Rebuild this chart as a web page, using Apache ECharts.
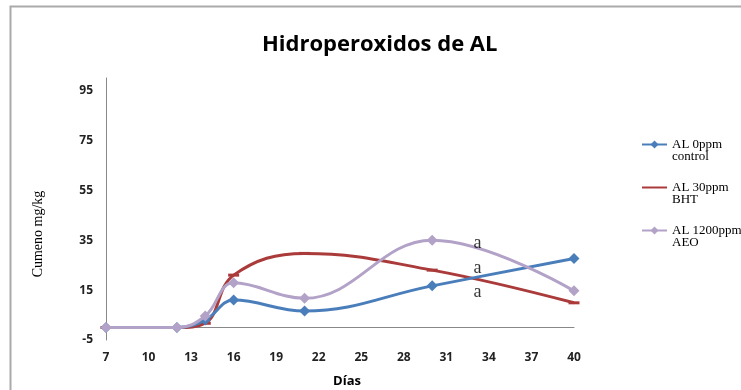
<!DOCTYPE html>
<html>
<head>
<meta charset="utf-8">
<script src="https://cdn.jsdelivr.net/npm/echarts@6/dist/echarts.min.js"></script>
<style>html,body{margin:0;padding:0;background:#fff}#c{width:741px;height:390px}</style>
</head>
<body>
<div id="c"></div>
<script>
var days = [7, 12, 14, 16, 21, 30, 40];
var control = [0, 0, 3, 11, 6.6, 16.7, 27.7];
var bht = [0, 0, 1.7, 21, 29.7, 23, 9.9];
var aeo = [0, 0, 4.6, 17.9, 11.7, 35, 14.7];
var seriesNames = ['AL 0ppm\ncontrol', 'AL 30ppm\nBHT', 'AL 1200ppm\nAEO'];
var annotX = [33.2, 33.2, 33.2];
var annotY = [33.8, 23.8, 14.2];
var annotText = ['a', 'a', 'a'];

function pairs(xs, ys) { return xs.map(function (x, i) { return [x, ys[i]]; }); }

var chart = echarts.init(document.getElementById('c'));
var labelFont = { fontFamily: 'Open Sans', fontWeight: 'bold', fontSize: 12, color: '#222' };
chart.setOption({
  animation: false,
  title: {
    text: 'Hidroperoxidos de AL',
    left: 257, top: 29,
    textStyle: { fontFamily: 'Open Sans', fontWeight: 'bold', fontSize: 22, color: '#000' }
  },
  grid: { left: 106, right: 167, top: 78, bottom: 50 },
  legend: {
    orient: 'vertical', left: 636, top: 121,
    itemWidth: 25, itemHeight: 10, itemGap: 6,
    data: [
      { name: seriesNames[0] },
      { name: seriesNames[1], itemStyle: { opacity: 0 } },
      { name: seriesNames[2] }
    ],
    formatter: function (name) { return ' \n' + name; },
    textStyle: { fontFamily: 'Liberation Serif', fontSize: 13, color: '#000', lineHeight: 12 }
  },
  xAxis: {
    type: 'value', min: 7, max: 40, interval: 3,
    axisLine: { lineStyle: { color: '#888', width: 1 } },
    axisTick: { show: false },
    splitLine: { show: false },
    axisLabel: Object.assign({ margin: 12 }, labelFont)
  },
  yAxis: {
    type: 'value', min: -5, max: 100, interval: 20,
    axisLine: { show: true, lineStyle: { color: '#888', width: 1 } },
    axisTick: { show: false },
    splitLine: { show: false },
    axisLabel: Object.assign({ margin: 13, formatter: function (v) { return v === 100 ? '' : v; } }, labelFont)
  },
  graphic: [
    { type: 'rect', shape: { x: 10.5, y: 6.5, width: 900, height: 600 }, style: { fill: 'none', stroke: '#aaa', lineWidth: 2 }, silent: true },
    { type: 'text', x: 38, y: 234, rotation: Math.PI / 2, style: { text: 'Cumeno mg/kg', fontFamily: 'Liberation Serif', fontSize: 14, fill: '#000', align: 'center', verticalAlign: 'middle' } },
    { type: 'text', x: 347, y: 381, style: { text: 'Días', fontFamily: 'Open Sans', fontWeight: 'bold', fontSize: 13, fill: '#000', align: 'center', verticalAlign: 'middle' } }
  ],
  series: [
    { name: seriesNames[0], type: 'line', smooth: 0.4, data: pairs(days, control), symbol: 'diamond', symbolSize: 11, lineStyle: { width: 3, color: '#4A7EBB' }, itemStyle: { color: '#4A7EBB' }, z: 3 },
    { name: seriesNames[1], type: 'line', smooth: 0.4, data: pairs(days, bht), symbol: 'rect', symbolSize: [11, 3], lineStyle: { width: 3, color: '#AA3B3A' }, itemStyle: { color: '#AA3B3A' }, z: 2 },
    { name: seriesNames[2], type: 'line', smooth: 0.4, data: pairs(days, aeo), symbol: 'diamond', symbolSize: 11, lineStyle: { width: 3, color: '#B3A2C7' }, itemStyle: { color: '#B3A2C7' }, z: 4 },
    { name: 'annot', type: 'scatter', data: annotX.map(function (x, i) { return { value: [x, annotY[i]], label: { formatter: annotText[i] } }; }),
      symbolSize: 1, itemStyle: { color: 'rgba(0,0,0,0)' }, silent: true, z: 6,
      label: { show: true, position: 'inside', fontFamily: 'Liberation Serif', fontSize: 18, color: '#000' } }
  ]
});
</script>
</body>
</html>
